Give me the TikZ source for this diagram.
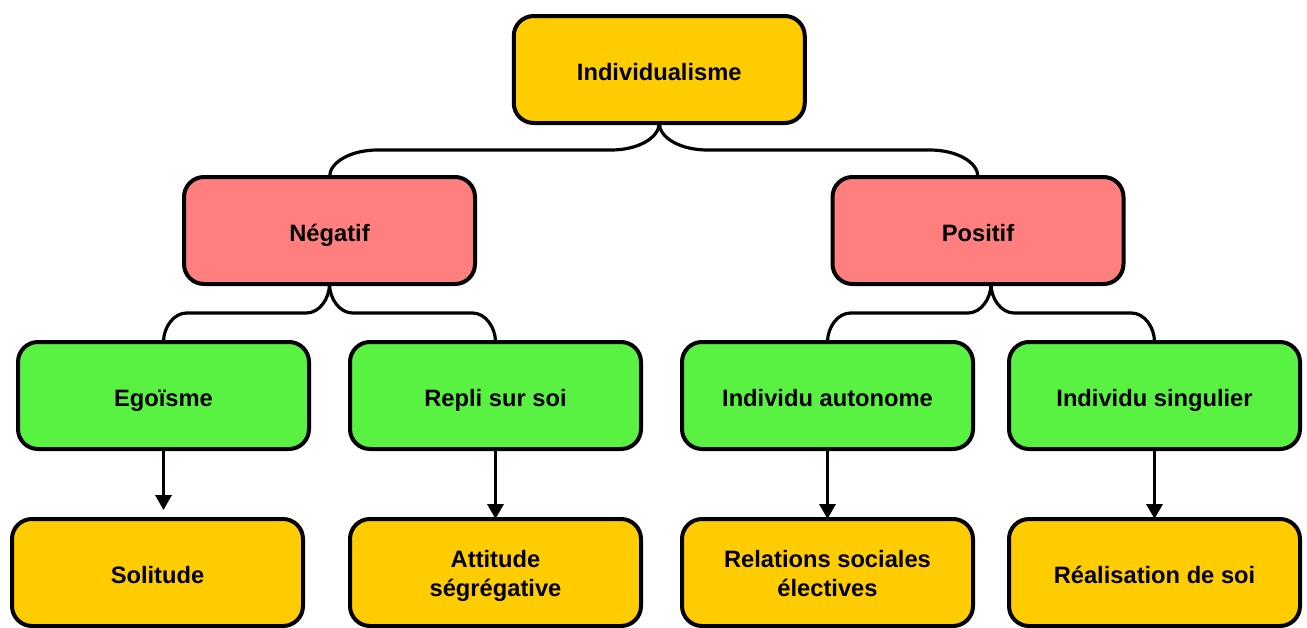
\documentclass[tikz,border=0pt]{standalone}
\usepackage{fontspec}
\setmainfont{Liberation Sans}
\usetikzlibrary{positioning}
\usetikzlibrary{calc}
\usetikzlibrary{arrows.meta}
\definecolor{gold}{RGB}{255,204,0}
\definecolor{salmon}{RGB}{255,127,127}
\definecolor{lime}{RGB}{89,242,67}
\tikzset{
  box/.style    = { rectangle, minimum width=145.5pt, minimum height=53.5pt, outer sep=0pt,
                    align=center, font=\bfseries\fontsize{11.85}{14.5}\selectfont,
                    execute at begin node={\rule[-3pt]{0pt}{16.5pt}},
                    execute at end node={\rule[-3pt]{0pt}{3pt}} },
  twoline/.style = { text height=26.5pt, text depth=3pt },
  border/.style = { line width=2pt, draw=black },
  round/.style  = { rounded corners=10pt },
}
\tikzset{
  topic/.style  = { box, border, round, fill=gold },
  side/.style   = { box, border, round, fill=salmon },
  trait/.style  = { box, border, round, fill=lime },
  effect/.style = { box, border, round, fill=gold },
  link/.style   = { line width=1.6pt, draw=black },
}

\begin{document}
\begin{tikzpicture}[
  node distance=20.5pt,
  >={Triangle[length=7.5pt,width=8pt]},
  every new ->/.style={shorten >=1pt}
]
  \useasboundingbox (0,0) rectangle (653.5pt,-313.5pt);

  \node (ego)  [trait] at (81.75pt,-197.75pt) {Egoïsme};
  \node (rep)  [trait,right=of ego]           {Repli sur soi};
  \node (auto) [trait,right=of rep]           {Individu autonome};
  \node (sing) [trait,right=18pt of auto]     {Individu singulier};

  \node (sol)  [effect,below=35pt of ego,xshift=-3pt] {Solitude};
  \node (att)  [effect,twoline,below=35pt of rep]     {Attitude\\ségrégative};
  \node (rel)  [effect,twoline,below=35pt of auto]    {Relations sociales\\électives};
  \node (real) [effect,below=35pt of sing]            {Réalisation de soi};

  \coordinate (negc) at ($(ego.north)!.5!(rep.north)$);
  \coordinate (posc) at ($(auto.north)!.5!(sing.north)$);
  \node (neg)  [side,above=29pt of negc]              {Négatif};
  \node (pos)  [side,above=29pt of posc,xshift=-6.5pt] {Positif};

  \coordinate (indc) at ($(neg.north)!.5!(pos.north)$);
  \node (ind)  [topic,above=27pt of indc,xshift=2.75pt] {Individualisme};

  \foreach \pa/\ch/\at/\s/\w in {ind/neg/ind/1/24,     ind/pos/ind/-1/24,
                                 neg/ego/negc/1/11.5,  neg/rep/negc/-1/11.5,
                                 pos/auto/posc/1/11.5, pos/sing/posc/-1/11.5}{
    \pgfmathsetmacro{\dx}{\s*\w}
    \pgfmathsetmacro{\cx}{0.55*\dx}
    \pgfmathsetmacro{\ncx}{-0.55*\dx}
    \coordinate (cusp) at (\at |- \pa.south);
    \coordinate (mid)  at ($(cusp)!.5!(cusp |- \ch.north)$);
    \draw [link] (cusp)
          .. controls +(0,-7.5pt) and +(\cx pt,0) .. ($(mid)-(\dx pt,0)$)
          -- ($(\ch.north |- mid)+(\dx pt,0)$)
          .. controls +(\ncx pt,0) and +(0,7.5pt) .. (\ch.north);
  }

  \draw [link,->,shorten >=4.5pt] (ego.south)  -- (ego.south |- sol.north);
  \draw [link,->]                 (rep.south)  -- (rep.south |- att.north);
  \draw [link,->]                 (auto.south) -- (auto.south |- rel.north);
  \draw [link,->]                 (sing.south) -- (sing.south |- real.north);

\end{tikzpicture}
\end{document}
